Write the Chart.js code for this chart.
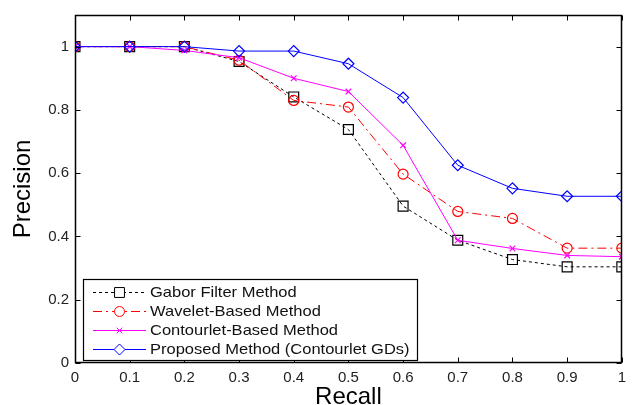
<!DOCTYPE html>
<html><head><meta charset="utf-8">
<script src="https://cdn.jsdelivr.net/npm/chart.js@4/dist/chart.umd.min.js"></script>
<style>html,body{margin:0;padding:0;background:#fff}#w{width:632px;height:405px}</style>
</head><body><div id="w"><canvas id="c" width="632" height="405"></canvas></div>
<script>
const recall = [0, 0.1, 0.2, 0.3, 0.4, 0.5, 0.6, 0.7, 0.8, 0.9, 1.0];
const gabor = [1, 1, 1, 0.953, 0.841, 0.738, 0.496, 0.388, 0.327, 0.304, 0.304];
const wavelet = [1, 1, 1, 0.957, 0.83, 0.809, 0.597, 0.479, 0.457, 0.363, 0.363];
const contourlet = [1, 1, 0.988, 0.965, 0.9, 0.858, 0.688, 0.388, 0.362, 0.34, 0.336];
const proposed = [1, 1, 1, 0.986, 0.986, 0.946, 0.839, 0.625, 0.552, 0.527, 0.527];
const seriesNames = ["Gabor Filter Method", "Wavelet-Based Method", "Contourlet-Based Method", "Proposed Method (Contourlet GDs)"];
const xTicks = [0, 0.1, 0.2, 0.3, 0.4, 0.5, 0.6, 0.7, 0.8, 0.9, 1];
const yTicks = [0, 0.2, 0.4, 0.6, 0.8, 1];
const xLabel = "Recall";
const yLabel = "Precision";

const pts = a => a.map((v, i) => ({x: recall[i], y: v}));
const styles = [
  {color: '#000000', dash: [3, 3], point: 'rect', radius: 7, order: 3},
  {color: '#ff0000', dash: [9, 4, 2, 4], point: 'circle', radius: 5, order: 2},
  {color: '#ff00ff', dash: [], point: 'crossRot', radius: 4, order: 1},
  {color: '#0000ff', dash: [], point: 'rectRot', radius: 5.5, order: 0}
];
const values = [gabor, wavelet, contourlet, proposed];
const datasets = values.map((v, i) => ({
  label: seriesNames[i], data: pts(v),
  borderColor: styles[i].color, borderWidth: 1, borderDash: styles[i].dash,
  pointStyle: styles[i].point, pointRadius: styles[i].radius,
  pointBorderColor: styles[i].color, pointBackgroundColor: 'rgba(0,0,0,0)',
  pointBorderWidth: 1.2, tension: 0, order: styles[i].order, fill: false
}));

const fmt = v => { const r = Math.round(v * 10) / 10; return String(r); };
const tickFont = {size: 15, family: 'Arial, "Liberation Sans", sans-serif'};

const deco = {
  id: 'deco',
  afterDraw(chart) {
    const ctx = chart.ctx, a = chart.chartArea, xs = chart.scales.x, ys = chart.scales.y;
    ctx.save();
    ctx.strokeStyle = '#000'; ctx.lineWidth = 1; ctx.setLineDash([]);
    const L = Math.round(a.left) + 0.5, R = Math.round(a.right) - 0.5, T = Math.round(a.top) + 0.5, B = Math.round(a.bottom) - 0.5;
    ctx.beginPath();
    xTicks.forEach(t => {
      const px = Math.round(xs.getPixelForValue(t)) + 0.5;
      ctx.moveTo(px, B); ctx.lineTo(px, B - 5);
      ctx.moveTo(px, T); ctx.lineTo(px, T + 5);
    });
    yTicks.forEach(t => {
      const py = Math.round(ys.getPixelForValue(t)) + 0.5;
      ctx.moveTo(L, py); ctx.lineTo(L + 5, py);
      ctx.moveTo(R, py); ctx.lineTo(R - 5, py);
    });
    ctx.stroke();
    ctx.lineWidth = 1.5;
    ctx.strokeRect(L, T, R - L, B - T);
    // axis titles
    ctx.fillStyle = '#000';
    ctx.font = '24px Arial, "Liberation Sans", sans-serif';
    ctx.textAlign = 'center'; ctx.textBaseline = 'alphabetic';
    ctx.fillText(xLabel, (a.left + a.right) / 2, 404);
    ctx.save();
    ctx.translate(30, (a.top + a.bottom) / 2);
    ctx.rotate(-Math.PI / 2);
    ctx.fillText(yLabel, 0, 0);
    ctx.restore();
    // legend
    const bx = 83.5, by = 279.5, bw = 334, bh = 81;
    ctx.fillStyle = '#fff';
    ctx.fillRect(bx, by, bw, bh);
    ctx.lineWidth = 1.2; ctx.strokeStyle = '#000';
    ctx.strokeRect(bx, by, bw, bh);
    chart.data.datasets.forEach((ds, i) => {
      const y = 292.5 + i * 19;
      ctx.strokeStyle = ds.borderColor; ctx.lineWidth = 1;
      ctx.setLineDash(ds.borderDash);
      ctx.beginPath(); ctx.moveTo(93, y); ctx.lineTo(146, y); ctx.stroke();
      ctx.setLineDash([]);
      Chart.helpers.drawPoint(ctx, {pointStyle: ds.pointStyle, radius: ds.pointRadius, borderWidth: 1.2, rotation: 0}, 119.5, y);
      ctx.save();
      ctx.fillStyle = '#111';
      ctx.font = '15px Arial, "Liberation Sans", sans-serif';
      ctx.textAlign = 'left'; ctx.textBaseline = 'middle';
      ctx.translate(150, y + 0.5); ctx.scale(1.1, 1);
      ctx.fillText(ds.label, 0, 0);
      ctx.restore();
    });
    ctx.restore();
  }
};

new Chart(document.getElementById('c'), {
  type: 'line',
  data: {datasets},
  options: {
    responsive: false, animation: false, devicePixelRatio: 1,
    layout: {padding: {top: 15, right: 3, left: 0, bottom: 0}},
    plugins: {legend: {display: false}, tooltip: {enabled: false}},
    scales: {
      x: {
        type: 'linear', min: 0, max: 1,
        afterBuildTicks: s => { s.ticks = xTicks.map(v => ({value: v})); },
        afterFit: s => { s.height = 42; },
        grid: {display: false, drawTicks: false, tickLength: 0}, border: {display: false},
        ticks: {callback: v => fmt(v), color: '#222', padding: 6, maxRotation: 0, autoSkip: false, font: tickFont}
      },
      y: {
        type: 'linear', min: 0, max: 1.1,
        afterBuildTicks: s => { s.ticks = yTicks.map(v => ({value: v})); },
        afterFit: s => { s.width = 75; },
        grid: {display: false, drawTicks: false, tickLength: 0}, border: {display: false},
        ticks: {callback: v => fmt(v), color: '#222', padding: 6, autoSkip: false, font: tickFont}
      }
    }
  },
  plugins: [deco]
});
</script></body></html>
